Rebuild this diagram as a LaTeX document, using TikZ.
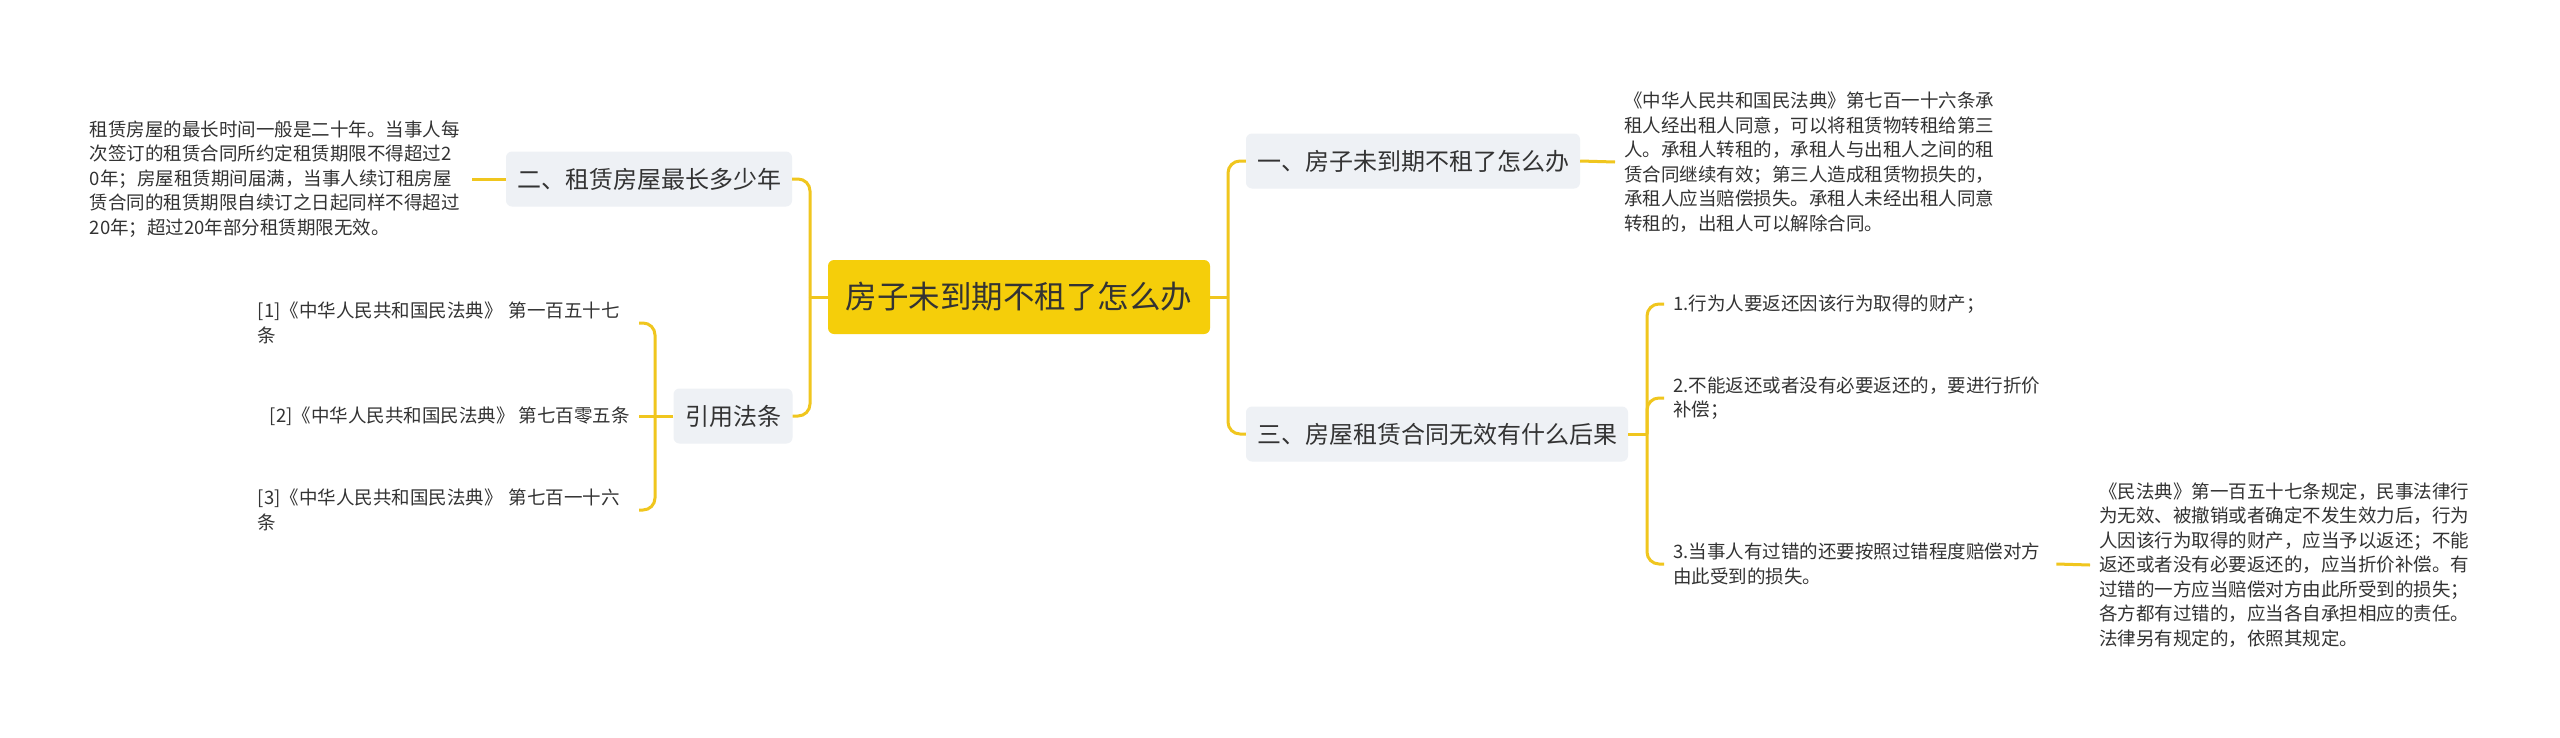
\documentclass[tikz,border=0pt]{standalone}
\usepackage{fontspec}
\setmainfont{Noto Sans CJK SC}
\usepackage{tikz}
\usetikzlibrary{positioning}

\definecolor{jaune}{RGB}{245,206,10}
\definecolor{trait}{RGB}{240,198,30}
\definecolor{fond}{RGB}{238,241,245}
\definecolor{encre}{RGB}{51,51,51}

\begin{document}
\begin{tikzpicture}[
    x=1pt, y=-1pt,
    racine/.style={fill=jaune, rounded corners=6pt, minimum width=382pt, minimum height=74pt, inner sep=0pt, text=encre, font=\fontsize{31.5pt}{38pt}\selectfont},
    branche/.style={fill=fond, rounded corners=6pt, minimum height=55pt, inner sep=0pt, text=encre, font=\fontsize{24pt}{29pt}\selectfont},
    feuille/.style={align=left, inner sep=9pt, text=encre, font=\fontsize{18.5pt}{24.5pt}\selectfont},
    lien/.style={draw=trait, line width=3pt, rounded corners=12pt}
]
    \fill[white] (0,0) rectangle (2560,737);

    % Nœud central
    \node[racine] (racine) at (1019,297) {房子未到期不租了怎么办};

    % Branches
    \node[branche, minimum width=286pt] (b2) at (649,179) {二、租赁房屋最长多少年};
    \node[branche, minimum width=119pt] (bref) at (733,416) {引用法条};
    \node[branche, minimum width=334pt] (b1) at (1413,161) {一、房子未到期不租了怎么办};
    \node[branche, minimum width=382pt] (b3) at (1437,434) {三、房屋租赁合同无效有什么后果};

    % Feuilles à gauche
    \node[feuille, anchor=east, text width=373pt] (l2) at (472,179) {租赁房屋的最长时间一般是二十年。当事人每\\次签订的租赁合同所约定租赁期限不得超过2\\0年；房屋租赁期间届满，当事人续订租房屋\\赁合同的租赁期限自续订之日起同样不得超过\\20年；超过20年部分租赁期限无效。};
    \node[feuille, anchor=east, text width=372pt] (r1) at (639,323) {[1]《中华人民共和国民法典》 第一百五十七\\条};
    \node[feuille, anchor=east] (r2) at (639,416) {[2]《中华人民共和国民法典》 第七百零五条};
    \node[feuille, anchor=east, text width=372pt] (r3) at (639,510) {[3]《中华人民共和国民法典》 第七百一十六\\条};

    % Feuilles à droite
    \node[feuille, anchor=west] (l1) at (1615,162) {《中华人民共和国民法典》第七百一十六条承\\租人经出租人同意，可以将租赁物转租给第三\\人。承租人转租的，承租人与出租人之间的租\\赁合同继续有效；第三人造成租赁物损失的，\\承租人应当赔偿损失。承租人未经出租人同意\\转租的，出租人可以解除合同。};
    \node[feuille, anchor=west] (i1) at (1664,304) {1.行为人要返还因该行为取得的财产；};
    \node[feuille, anchor=west] (i2) at (1664,398) {2.不能返还或者没有必要返还的，要进行折价\\补偿；};
    \node[feuille, anchor=west, text width=374pt] (i3) at (1664,564) {3.当事人有过错的还要按照过错程度赔偿对方\\由此受到的损失。};
    \node[feuille, anchor=west] (detail) at (2090,565) {《民法典》第一百五十七条规定，民事法律行\\为无效、被撤销或者确定不发生效力后，行为\\人因该行为取得的财产，应当予以返还；不能\\返还或者没有必要返还的，应当折价补偿。有\\过错的一方应当赔偿对方由此所受到的损失；\\各方都有过错的，应当各自承担相应的责任。\\法律另有规定的，依照其规定。};

    % Points de jonction
    \coordinate (tg) at (810,297);
    \coordinate (td) at (1228,297);
    \coordinate (tr) at (655,416);
    \coordinate (tt) at (1647,434);

    % Liens du nœud central
    \draw[lien] (racine.west) -- (tg);
    \draw[lien] (tg) |- (b2.east);
    \draw[lien] (tg) |- (bref.east);
    \draw[lien] (racine.east) -- (td);
    \draw[lien] (td) |- (b1.west);
    \draw[lien] (td) |- (b3.west);

    % Liens vers les feuilles
    \draw[lien] (b2.west) -- (l2.east);
    \draw[lien] (b1.east) -- (l1.west);
    \draw[lien] (bref.west) -- (tr);
    \draw[lien] (tr) |- (r1.east);
    \draw[lien] (tr) -- (r2.east);
    \draw[lien] (tr) |- (r3.east);
    \draw[lien] (b3.east) -- (tt);
    \draw[lien] (tt) |- (i1.west);
    \draw[lien] (tt) |- (i2.west);
    \draw[lien] (tt) |- (i3.west);
    \draw[lien] (i3.east) -- (detail.west);

\end{tikzpicture}
\end{document}
